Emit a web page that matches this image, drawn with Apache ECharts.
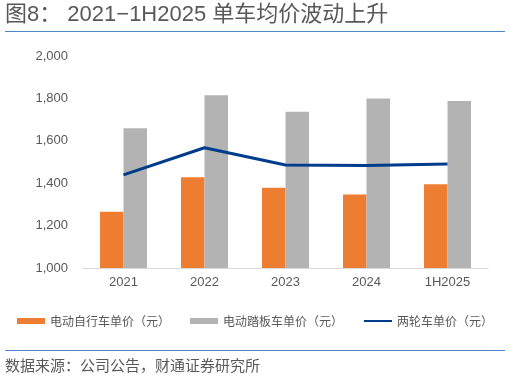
<!DOCTYPE html>
<html><head><meta charset="utf-8">
<script src="https://cdn.jsdelivr.net/npm/echarts@6/dist/echarts.min.js"></script>
<style>html,body{margin:0;padding:0;background:#fff}#c{width:510px;height:381px}</style>
</head><body><div id="c"></div>
<script>
const categories = ['2021','2022','2023','2024','1H2025'];
const ebikePrice = [1265, 1428, 1379, 1347, 1395];
const scooterPrice = [1659, 1815, 1737, 1800, 1788];
const twoWheelPrice = [1439, 1567, 1486, 1483, 1490];
const seriesNames = ['电动自行车单价（元）','电动踏板车单价（元）','两轮车单价（元）'];

const font = '"Liberation Sans", "Noto Sans CJK SC", sans-serif';
const chart = echarts.init(document.getElementById('c'));
chart.setOption({
  animation: false,
  textStyle: {fontFamily: font},
  grid: {left: 83, right: 22, top: 56, bottom: 113},
  legend: {
    top: 310, left: 'center', itemGap: 20, itemWidth: 28, itemHeight: 6,
    textStyle: {color: '#595959', fontSize: 12, fontFamily: '"Noto Sans CJK SC", sans-serif'},
    data: [
      {name: seriesNames[0], icon: 'rect'},
      {name: seriesNames[1], icon: 'rect'},
      {name: seriesNames[2], itemStyle: {opacity: 0}}
    ]
  },
  xAxis: {
    type: 'category', data: categories,
    axisLine: {lineStyle: {color: '#d9d9d9'}},
    axisTick: {show: false},
    axisLabel: {color: '#595959', fontSize: 13, margin: 8}
  },
  yAxis: {
    type: 'value', min: 1000, max: 2000, interval: 200,
    splitLine: {show: false},
    axisLine: {show: false}, axisTick: {show: false},
    axisLabel: {color: '#595959', fontSize: 13, margin: 15,
      formatter: v => v.toLocaleString('en-US')}
  },
  series: [
    {name: seriesNames[0], type: 'bar', data: ebikePrice, barGap: '0%', barCategoryGap: '42%',
     itemStyle: {color: '#ed7d31'}},
    {name: seriesNames[1], type: 'bar', data: scooterPrice,
     itemStyle: {color: '#b3b3b3'}},
    {name: seriesNames[2], type: 'line', data: twoWheelPrice, symbol: 'none',
     lineStyle: {color: '#003c8c', width: 3}, itemStyle: {color: '#003c8c'}}
  ],
  graphic: [
    {type: 'text', left: 5, top: 4, style: {text: '图8： 2021−1H2025 单车均价波动上升', fill: '#595959', font: '22px ' + font}},
    {type: 'rect', shape: {x: 5, y: 31, width: 500, height: 1}, style: {fill: '#4a86c8'}},
    {type: 'rect', shape: {x: 5, y: 350, width: 500, height: 1}, style: {fill: '#4a86c8'}},
    {type: 'text', left: 5, top: 358, style: {text: '数据来源：公司公告，财通证券研究所', fill: '#595959', font: '15px "Noto Sans CJK SC", sans-serif'}}
  ]
});
</script></body></html>
